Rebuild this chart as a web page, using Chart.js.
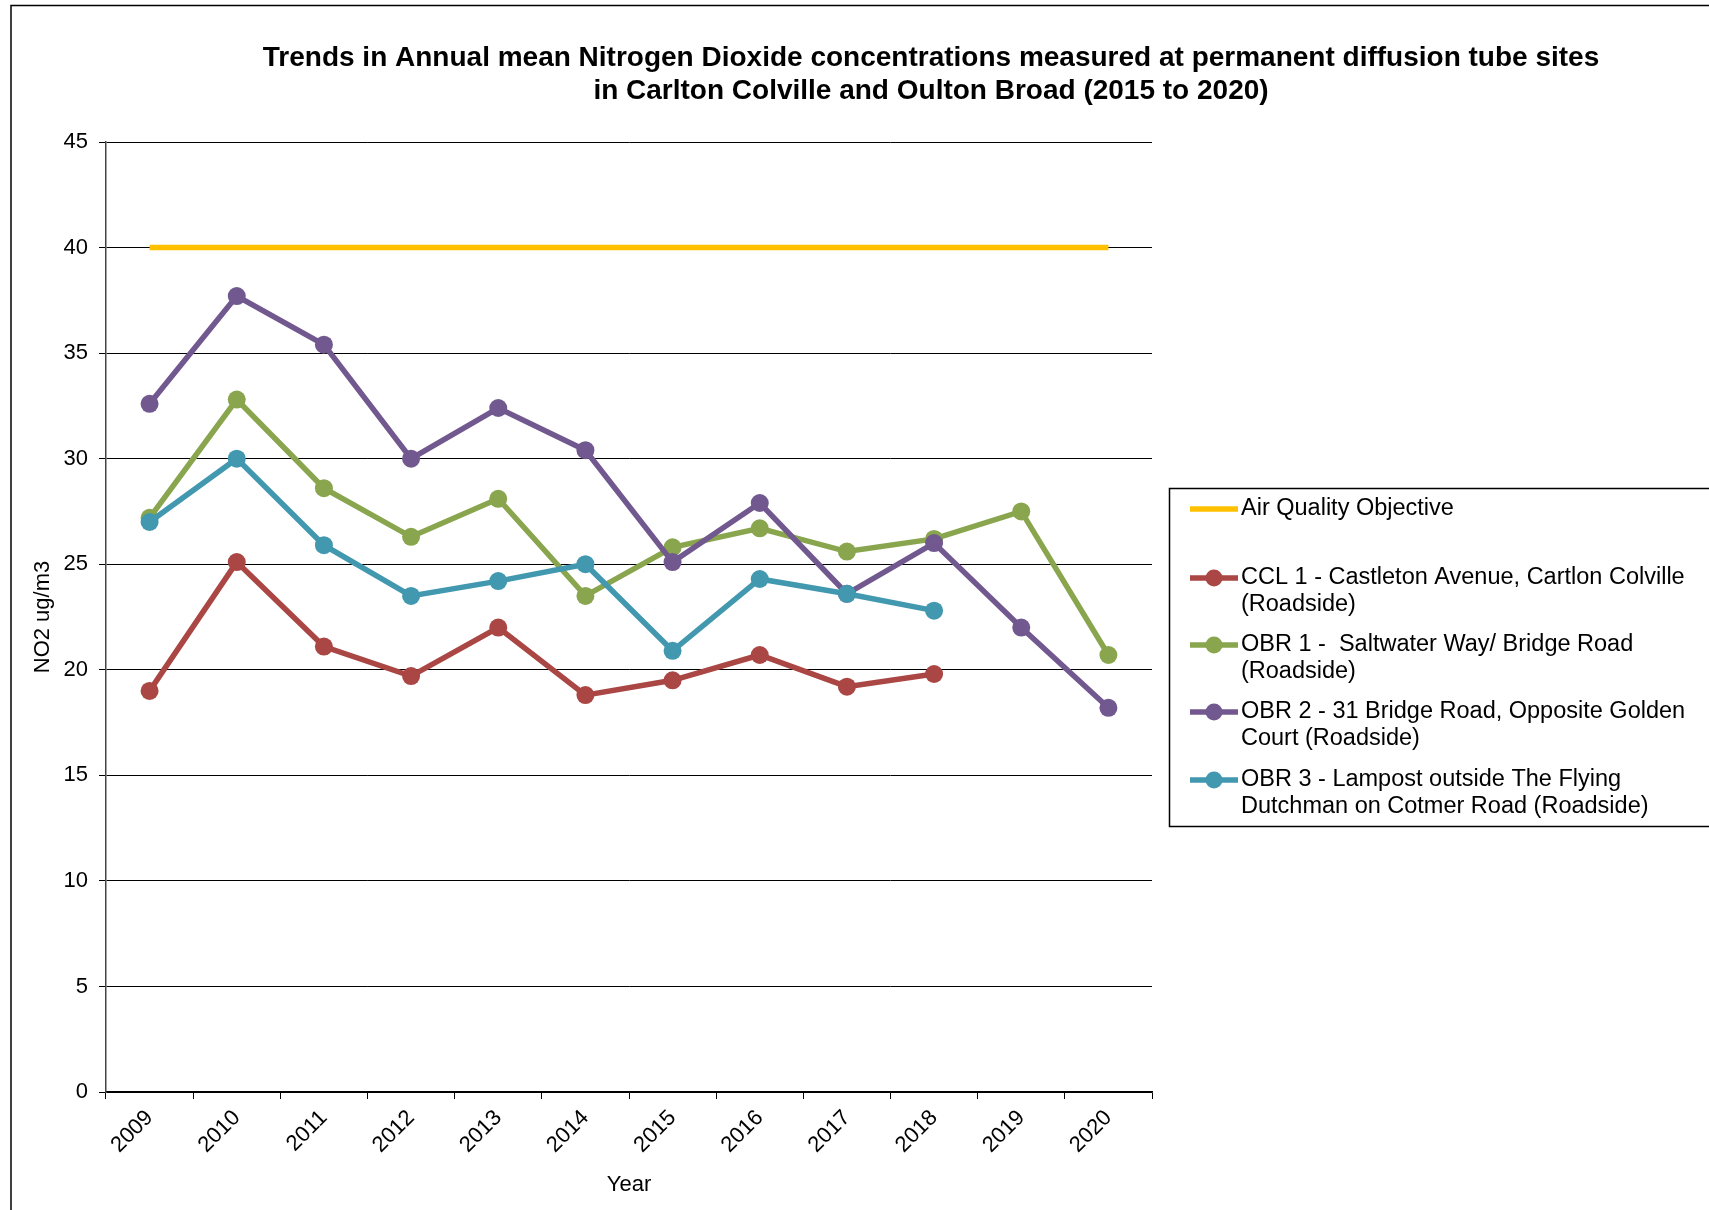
<!DOCTYPE html>
<html>
<head>
<meta charset="utf-8">
<title>NO2 diffusion tube trends</title>
<script src="https://cdn.jsdelivr.net/npm/chart.js@4"></script>
<style>
    html, body { margin: 0; padding: 0; background: #fff; }
    #wrap { width: 1709px; height: 1210px; }
</style>
</head>
<body>
<div id="wrap"><canvas id="no2Chart" width="1709" height="1210"></canvas></div>
<script>
// Annual mean NO2 (ug/m3) per site
const years = ['2009', '2010', '2011', '2012', '2013', '2014', '2015', '2016', '2017', '2018', '2019', '2020'];
const objective = [40, 40, 40, 40, 40, 40, 40, 40, 40, 40, 40, 40];
const ccl1 = [19.0, 25.1, 21.1, 19.7, 22.0, 18.8, 19.5, 20.7, 19.2, 19.8, null, null];
const obr1 = [27.2, 32.8, 28.6, 26.3, 28.1, 23.5, 25.8, 26.7, 25.6, 26.2, 27.5, 20.7];
const obr2 = [32.6, 37.7, 35.4, 30.0, 32.4, 30.4, 25.1, 27.9, 23.6, 26.0, 22.0, 18.2];
const obr3 = [27.0, 30.0, 25.9, 23.5, 24.2, 25.0, 20.9, 24.3, 23.6, 22.8, null, null];

const titleLines = [
    'Trends in Annual mean Nitrogen Dioxide concentrations measured at permanent diffusion tube sites',
    'in Carlton Colville and Oulton Broad (2015 to 2020)'
];

const FONT = 'Arial, "Liberation Sans", sans-serif';
const DOT = 9;

function siteLine(label, data, color, order) {
    return {
        label: label,
        data: data,
        borderColor: color,
        backgroundColor: color,
        borderWidth: 5.5,
        pointRadius: DOT,
        pointHoverRadius: DOT,
        pointBorderWidth: 0,
        pointBackgroundColor: color,
        order: order
    };
}

// outer frame + title
const framePlugin = {
    id: 'frame',
    afterDraw(chart) {
        const ctx = chart.ctx;
        ctx.save();
        ctx.strokeStyle = '#000';
        ctx.lineWidth = 1.5;
        ctx.strokeRect(11, 5.5, 1720, 1230);

        ctx.fillStyle = '#000';
        ctx.font = 'bold 28px ' + FONT;
        ctx.textAlign = 'center';
        ctx.textBaseline = 'middle';
        ctx.fillText(titleLines[0], 931, 58);
        ctx.fillText(titleLines[1], 931, 91);
        ctx.restore();
    }
};

// boxed legend on the right, labels may wrap onto two lines
const legendPlugin = {
    id: 'boxLegend',
    afterDraw(chart) {
        const ctx = chart.ctx;
        const rows = [509, 578, 645, 712, 780];
        ctx.save();
        ctx.strokeStyle = '#000';
        ctx.lineWidth = 1.5;
        ctx.strokeRect(1169.5, 488.5, 600, 338);

        ctx.font = '23.5px ' + FONT;
        ctx.textBaseline = 'middle';
        ctx.textAlign = 'left';
        chart.data.datasets.forEach((ds, i) => {
            const y = rows[i];
            ctx.strokeStyle = ds.borderColor;
            ctx.lineWidth = 5.5;
            ctx.beginPath();
            ctx.moveTo(1190, y);
            ctx.lineTo(1238, y);
            ctx.stroke();
            if (ds.pointRadius > 0) {
                ctx.fillStyle = ds.borderColor;
                ctx.beginPath();
                ctx.arc(1214, y, 8.5, 0, Math.PI * 2);
                ctx.fill();
            }
            ctx.fillStyle = '#000';
            ds.label.split('\n').forEach((line, j) => {
                ctx.fillText(line, 1241, y + j * 27);
            });
        });
        ctx.restore();
    }
};

const ctx = document.getElementById('no2Chart').getContext('2d');
new Chart(ctx, {
    type: 'line',
    data: {
        labels: years,
        datasets: [
            {
                label: 'Air Quality Objective',
                data: objective,
                borderColor: '#FFC000',
                backgroundColor: '#FFC000',
                borderWidth: 5.5,
                pointRadius: 0,
                pointHoverRadius: 0,
                order: 5
            },
            siteLine('CCL 1 - Castleton Avenue, Cartlon Colville\n(Roadside)', ccl1, '#AA4643', 4),
            siteLine('OBR 1 -  Saltwater Way/ Bridge Road\n(Roadside)', obr1, '#89A54E', 3),
            siteLine('OBR 2 - 31 Bridge Road, Opposite Golden\nCourt (Roadside)', obr2, '#71588F', 2),
            siteLine('OBR 3 - Lampost outside The Flying\nDutchman on Cotmer Road (Roadside)', obr3, '#4198AF', 1)
        ]
    },
    options: {
        responsive: false,
        animation: false,
        layout: {
            padding: { left: 0, top: 142, right: 557, bottom: 0 }
        },
        plugins: {
            legend: { display: false },
            title: { display: false },
            tooltip: { enabled: false }
        },
        scales: {
            x: {
                offset: true,
                grid: {
                    offset: true,
                    drawOnChartArea: false,
                    drawTicks: true,
                    tickLength: 7,
                    color: '#000'
                },
                border: { color: '#000', width: 1.5 },
                ticks: {
                    minRotation: 45,
                    maxRotation: 45,
                    padding: 6,
                    color: '#000',
                    font: { family: FONT, size: 22 }
                },
                title: {
                    display: true,
                    text: 'Year',
                    color: '#000',
                    font: { family: FONT, size: 22 },
                    padding: { top: 0, bottom: 12 }
                },
                afterFit(scale) { scale.height = 118; }
            },
            y: {
                min: 0,
                max: 45,
                ticks: {
                    stepSize: 5,
                    padding: 11,
                    color: '#000',
                    font: { family: FONT, size: 22 }
                },
                grid: {
                    color: '#000',
                    lineWidth: 1,
                    tickLength: 7
                },
                border: { color: '#444', width: 1.5 },
                title: {
                    display: true,
                    text: 'NO2 ug/m3',
                    color: '#000',
                    font: { family: FONT, size: 22 },
                    padding: { top: 30, bottom: 0 }
                },
                afterFit(scale) { scale.width = 106; }
            }
        }
    },
    plugins: [framePlugin, legendPlugin]
});
</script>
</body>
</html>
